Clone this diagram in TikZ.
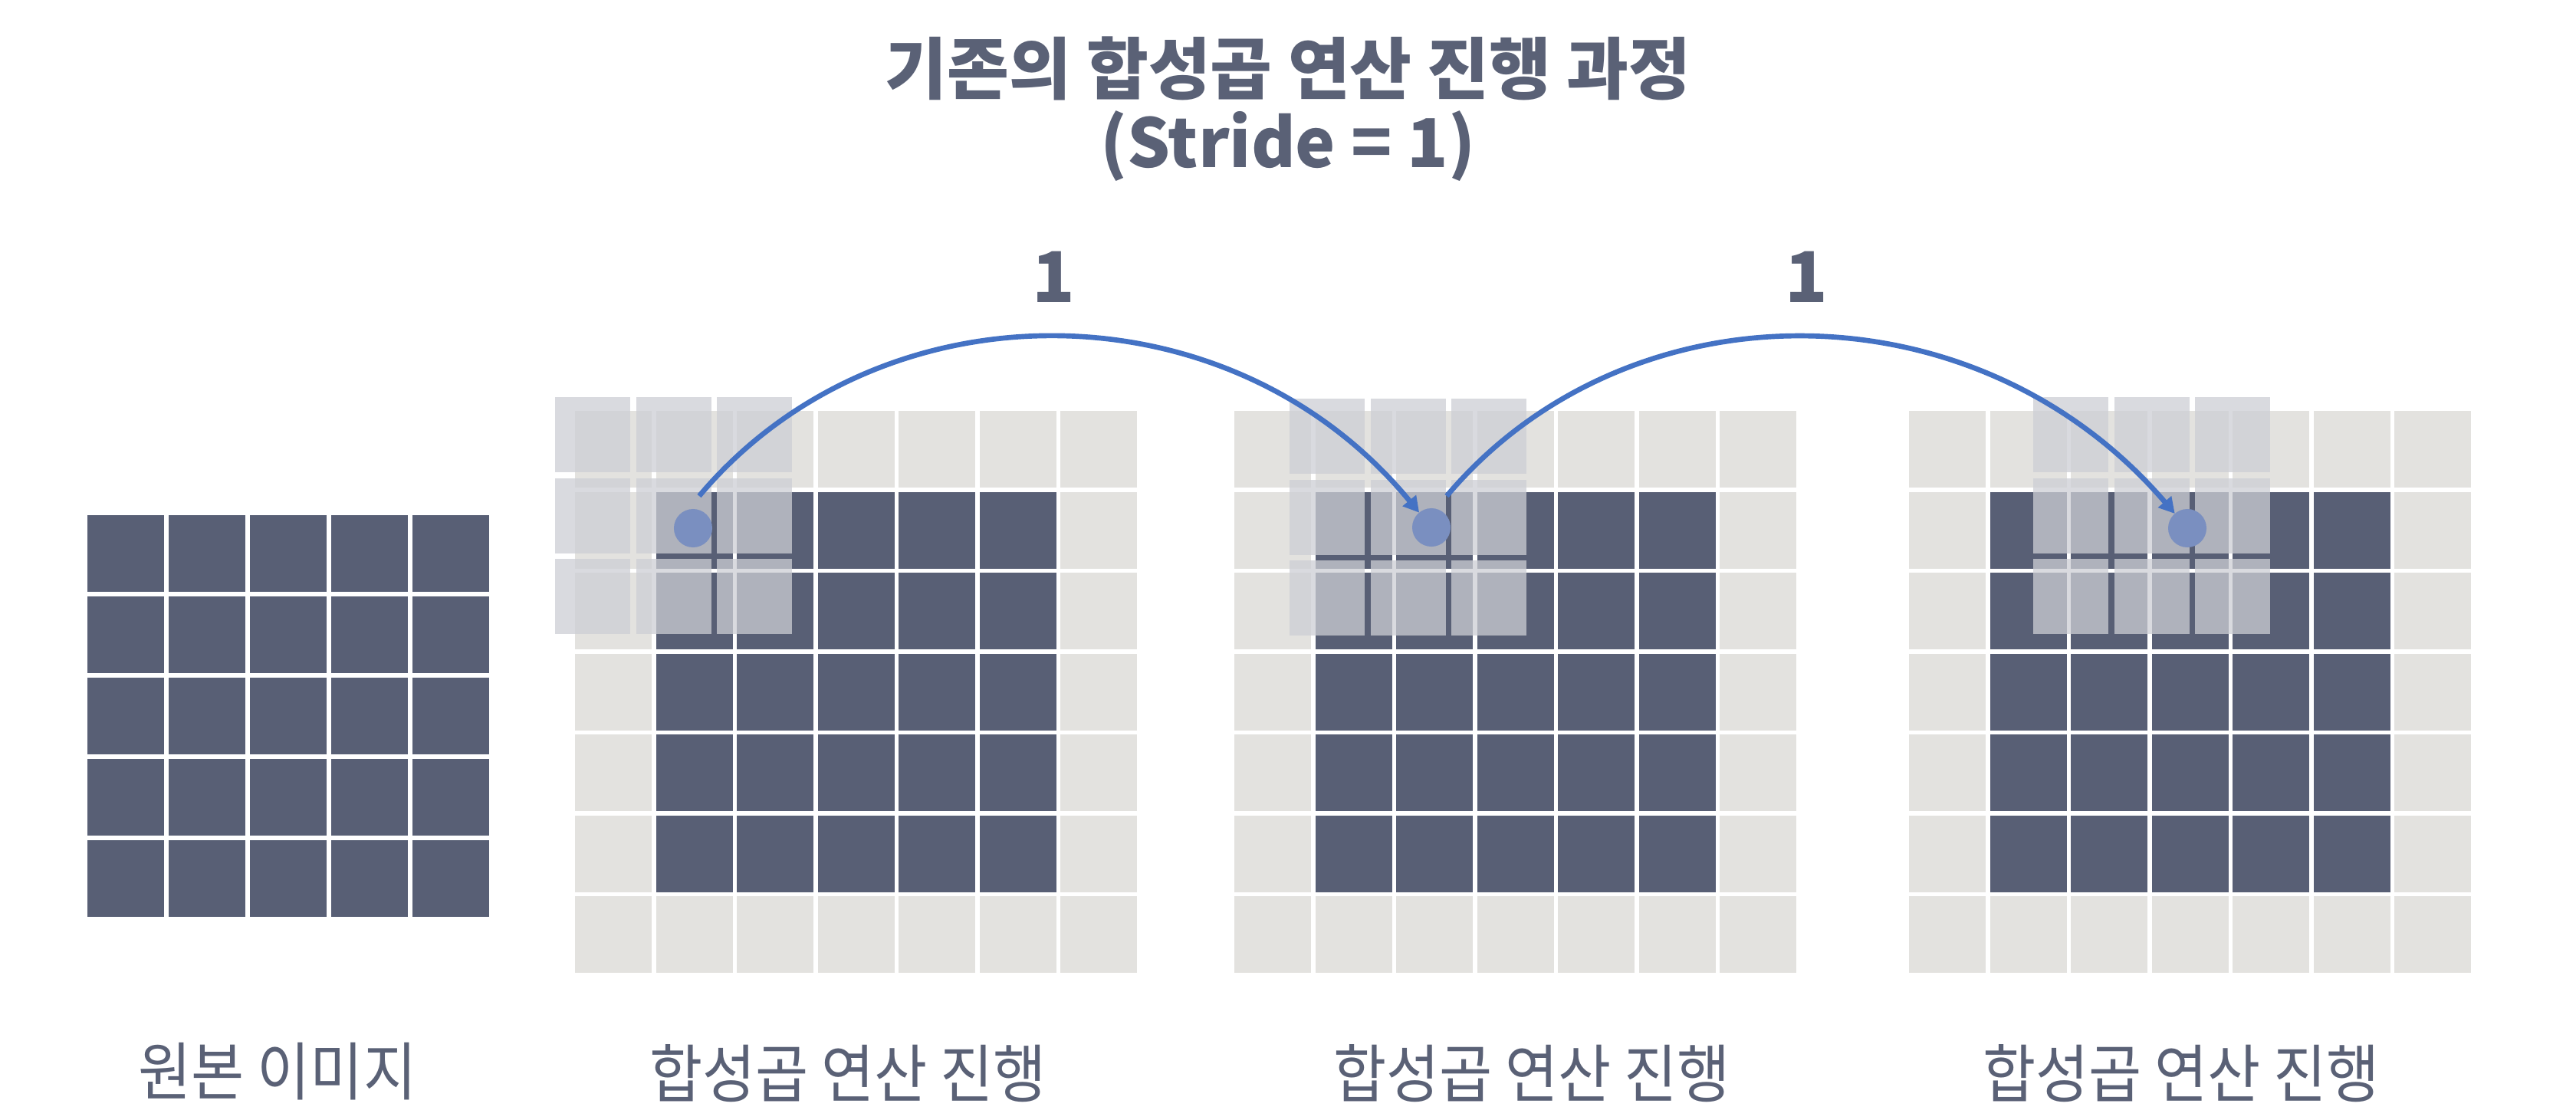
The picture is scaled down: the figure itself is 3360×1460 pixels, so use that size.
\documentclass[tikz,border=0pt]{standalone}
\usepackage{fontspec}
\setmainfont{Noto Sans CJK KR}
\newfontfamily\lblfont[FakeStretch=0.91]{Noto Sans CJK KR}
\usetikzlibrary{arrows.meta}
\definecolor{txt}{HTML}{5A6176}
\definecolor{darkcell}{HTML}{585F75}
\definecolor{lightcell}{HTML}{E3E2DF}
\definecolor{kern}{RGB}{205,206,213}
\definecolor{arccol}{HTML}{4472C4}
\definecolor{dotc}{HTML}{7A8FC0}
\begin{document}
\begin{tikzpicture}[x=0.01cm,y=-0.01cm,
  ttl/.style={inner sep=0pt,text=txt,font=\fontsize{25}{29}\selectfont\bfseries},
  num/.style={inner sep=0pt,text=txt,font=\fontsize{26}{30}\selectfont\bfseries},
  lbl/.style={inner sep=0pt,text=txt,font=\lblfont\fontsize{23.5}{27}\selectfont},
  dotnode/.style={circle,fill=dotc,inner sep=0pt,outer sep=0pt,minimum size=0.5cm},
  arcline/.style={draw=arccol,line width=1.9pt,-{Triangle[length=5.8pt,width=6.2pt]}},
  kcell/.style={fill=kern,fill opacity=0.75}
]
\useasboundingbox (0,0) rectangle (3360,1460);
\fill[white] (0,0) rectangle (3360,1460);

% original 5x5 image
\foreach \i in {0,...,4}{
  \foreach \j in {0,...,4}{
    \fill[darkcell] ({114+106*\i},{672+106*\j}) rectangle ++(100,100);
  }
}

% padded 7x7 grids
\foreach \gx in {750,1610,2490}{
  \foreach \i in {0,...,6}{
    \foreach \j in {0,...,6}{
      \fill[lightcell] ({\gx+105.5*\i},{536+105.5*\j}) rectangle ++(100,100);
    }
  }
  \foreach \i in {1,...,5}{
    \foreach \j in {1,...,5}{
      \fill[darkcell] ({\gx+105.5*\i},{536+105.5*\j}) rectangle ++(100,100);
    }
  }
}

% kernels 3x3
\foreach \kx/\ky in {724/518,1682/520,2652/518}{
  \foreach \i in {0,...,2}{
    \foreach \j in {0,...,2}{
      \fill[kcell] ({\kx+105.5*\i},{\ky+105.5*\j}) rectangle ++(98,98);
    }
  }
}

% dots
\node[dotnode] (d1) at (904,689) {};
\node[dotnode] (d2) at (1867,688) {};
\node[dotnode] (d3) at (2853,689) {};

% arcs
\coordinate (s1) at (912,647);
\coordinate (s2) at (1887,647);
\draw[arcline] (s1) .. controls (1147,367) and (1603,367) .. (d2);
\draw[arcline] (s2) .. controls (2123,367) and (2577,367) .. (d3);

% stride labels
\node[num] (n1) at (1374,361) {1};
\node[num] (n2) at (2356,361) {1};

% title
\node[ttl] (t1) at (1680,89) {기존의 합성곱 연산 진행 과정};
\node[ttl] (t2) at (1680,191) {(Stride = 1)};

% bottom labels
\node[lbl] (l0) at (362,1398) {원본 이미지};
\node[lbl] (l1) at (1106,1400) {합성곱 연산 진행};
\node[lbl] (l2) at (1998,1400) {합성곱 연산 진행};
\node[lbl] (l3) at (2845,1400) {합성곱 연산 진행};
\end{tikzpicture}
\end{document}
